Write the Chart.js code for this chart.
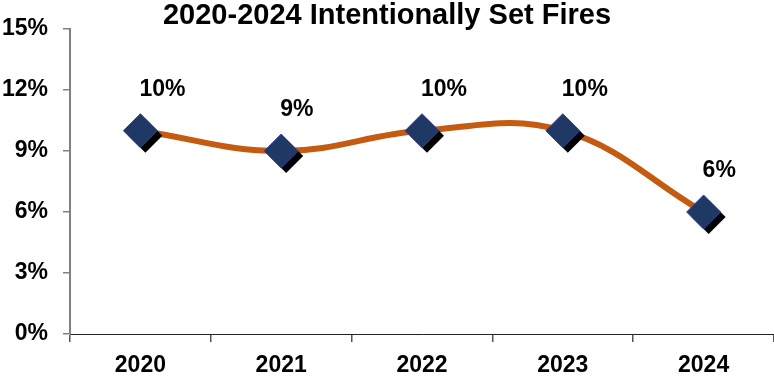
<!DOCTYPE html>
<html>
<head>
<meta charset="utf-8">
<script src="https://cdn.jsdelivr.net/npm/chart.js@4.4.1/dist/chart.umd.min.js"></script>
<style>
  body { margin: 0; background: #fff; }
  canvas { display: block; }
</style>
</head>
<body>
<canvas id="fires" width="774" height="377"></canvas>
<script>
const years = ['2020', '2021', '2022', '2023', '2024'];
const setFiresPct = [10, 9, 10, 10, 6];
const yTicks = [0, 3, 6, 9, 12, 15];

const FONT = "'Liberation Sans', Arial, sans-serif";
const MARKER_R = 17;

// hard black drop shadow behind each diamond (drawn before the diamonds)
const markerShadow = {
  id: 'markerShadow',
  beforeDatasetDraw(chart, args) {
    if (args.index !== 0) return;
    const ctx = chart.ctx;
    ctx.save();
    ctx.fillStyle = '#000';
    args.meta.data.forEach(pt => {
      const x = pt.x + 5, y = pt.y + 5;
      ctx.beginPath();
      ctx.moveTo(x - MARKER_R, y);
      ctx.lineTo(x, y - MARKER_R);
      ctx.lineTo(x + MARKER_R, y);
      ctx.lineTo(x, y + MARKER_R);
      ctx.closePath();
      ctx.fill();
    });
    ctx.restore();
  }
};

// percent labels above each point
const valueLabels = {
  id: 'valueLabels',
  afterDatasetsDraw(chart) {
    const ctx = chart.ctx;
    const meta = chart.getDatasetMeta(0);
    ctx.save();
    ctx.font = 'bold 23px ' + FONT;
    ctx.fillStyle = '#000';
    ctx.textAlign = 'left';
    ctx.textBaseline = 'alphabetic';
    meta.data.forEach((pt, i) => {
      ctx.fillText(setFiresPct[i] + '%', pt.x - 1, pt.y - 35);
    });
    ctx.restore();
  }
};

new Chart(document.getElementById('fires'), {
  type: 'line',
  data: {
    labels: years,
    datasets: [
      {
        data: setFiresPct,
        showLine: false,
        pointStyle: 'rectRot',
        pointRadius: MARKER_R,
        pointHoverRadius: MARKER_R,
        pointBackgroundColor: '#1F3864',
        pointBorderColor: '#3b3b9e',
        pointBorderWidth: 1,
        order: 0
      },
      {
        data: setFiresPct,
        borderColor: '#C55A11',
        borderWidth: 6,
        tension: 0.4,
        pointRadius: 0,
        fill: false,
        order: 1
      }
    ]
  },
  options: {
    responsive: false,
    animation: false,
    layout: { padding: 0, autoPadding: false },
    plugins: {
      legend: { display: false },
      tooltip: { enabled: false },
      title: {
        display: true,
        text: '2020-2024 Intentionally Set Fires',
        color: '#000',
        font: { family: FONT, size: 29, weight: 'bold', lineHeight: 0.9 },
        padding: { top: 3, bottom: 0 }
      }
    },
    scales: {
      x: {
        offset: true,
        grid: {
          offset: true,
          drawOnChartArea: false,
          drawTicks: true,
          tickLength: 8,
          color: '#555',
          lineWidth: 1.5
        },
        border: { color: '#222', width: 1 },
        ticks: {
          color: '#000',
          padding: 10,
          font: { family: FONT, size: 23, weight: 'bold' }
        },
        afterFit(scale) {
          scale.height = 43;
          scale.paddingLeft = 0;
          scale.paddingRight = 0;
        }
      },
      y: {
        min: 0,
        max: 15,
        afterBuildTicks(scale) { scale.ticks = yTicks.map(v => ({ value: v })); },
        grid: {
          drawOnChartArea: false,
          drawTicks: true,
          tickLength: 7,
          color: '#808080',
          lineWidth: 1.5
        },
        border: { color: '#808080', width: 2 },
        ticks: {
          color: '#000',
          padding: 15,
          font: { family: FONT, size: 23, weight: 'bold' },
          callback: v => v + '%'
        },
        afterFit(scale) { scale.width = 70; }
      }
    }
  },
  plugins: [markerShadow, valueLabels]
});
</script>
</body>
</html>
